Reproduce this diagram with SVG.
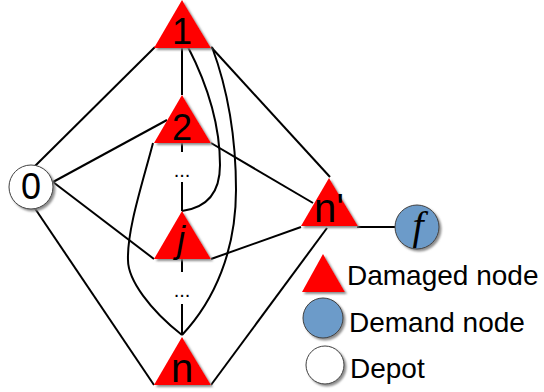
<svg xmlns="http://www.w3.org/2000/svg" width="544" height="392" viewBox="0 0 544 392">
  <defs>
    <filter id="shadow" x="-20%" y="-20%" width="140%" height="140%">
      <feDropShadow dx="2" dy="2" stdDeviation="0.8" flood-color="#808080" flood-opacity="0.9"/>
    </filter>
    <polygon id="tri" points="0,0 -28,48 29,48"/>
  </defs>
  <style>
    .edge { fill: none; stroke: #000; stroke-width: 2; }
    .damaged { fill: #ff0000; filter: url(#shadow); }
    .demand { fill: #6c9bc9; stroke: #404040; stroke-width: 1; filter: url(#shadow); }
    .depot { fill: #ffffff; stroke: #404040; stroke-width: 1; filter: url(#shadow); }
    .lbl { font-family: "Liberation Sans", Arial, sans-serif; font-size: 36px; fill: #000; text-anchor: middle; }
    .lbl-n { font-size: 40px; }
    .dots { font-family: "Liberation Sans", Arial, sans-serif; font-size: 20px; fill: #000; text-anchor: middle; }
    .legend { font-family: "Liberation Sans", Arial, sans-serif; font-size: 28px; fill: #000; }
  </style>

  <!-- connectors -->
  <g id="connectors">
    <!-- depot 0 -->
    <line class="edge" x1="35" y1="166" x2="155" y2="47"/>
    <line class="edge" x1="53" y1="182" x2="167" y2="120"/>
    <line class="edge" x1="53" y1="182" x2="154" y2="259"/>
    <line class="edge" x1="34" y1="207" x2="154" y2="385"/>
    <!-- vertical chain 1 - 2 - ... - j - ... - n -->
    <line class="edge" x1="182" y1="47" x2="182" y2="95"/>
    <line class="edge" x1="182" y1="143" x2="182" y2="152"/>
    <line class="edge" x1="182" y1="182" x2="182" y2="211"/>
    <line class="edge" x1="182" y1="259" x2="182" y2="272"/>
    <line class="edge" x1="182" y1="304" x2="182" y2="335"/>
    <!-- links into n' -->
    <line class="edge" x1="211" y1="47" x2="330" y2="177"/>
    <line class="edge" x1="211" y1="143" x2="313" y2="203"/>
    <line class="edge" x1="211" y1="259" x2="301" y2="227"/>
    <line class="edge" x1="211" y1="385" x2="327" y2="228"/>
    <line class="edge" x1="357" y1="227" x2="395" y2="227"/>
    <!-- curved links -->
    <path class="edge" d="M188,47 C205,80 220,120 220,165 C220,195 205,208 182,211"/>
    <path class="edge" d="M212,47 C228,90 236,140 236,190 C236,250 215,300 182,335"/>
    <path class="edge" d="M153,143 C142,185 127,230 128,260 C128,280 150,310 182,335"/>
  </g>

  <!-- nodes -->
  <g id="node-1">
    <use href="#tri" class="damaged" x="182" y="0"/>
    <text class="lbl" x="182" y="44">1</text>
  </g>
  <g id="node-2">
    <use href="#tri" class="damaged" x="182" y="95"/>
    <text class="lbl" x="182" y="140">2</text>
  </g>
  <g id="dots-upper">
    <text class="dots" x="182" y="177">...</text>
  </g>
  <g id="node-j">
    <use href="#tri" class="damaged" x="182" y="211"/>
    <text class="lbl" x="181" y="252" font-style="italic">j</text>
  </g>
  <g id="dots-lower">
    <text class="dots" x="182" y="297">...</text>
  </g>
  <g id="node-n">
    <use href="#tri" class="damaged" x="182" y="337"/>
    <text class="lbl lbl-n" x="182" y="382">n</text>
  </g>
  <g id="node-nprime">
    <use href="#tri" class="damaged" x="329" y="178"/>
    <text class="lbl lbl-n" x="329" y="222">n'</text>
  </g>
  <g id="node-0">
    <circle class="depot" cx="31" cy="187" r="22"/>
    <text class="lbl" x="31" y="199">0</text>
  </g>
  <g id="node-f">
    <circle class="demand" cx="417" cy="227" r="22"/>
    <text x="418" y="239" font-family="'Liberation Serif', 'Times New Roman', serif" font-style="italic" font-size="40" text-anchor="middle">f</text>
  </g>

  <!-- legend -->
  <g id="legend">
    <polygon class="damaged" points="323,254 302,292 345,292"/>
    <text class="legend" x="347" y="285">Damaged node</text>
    <circle class="demand" cx="323" cy="318" r="20"/>
    <text class="legend" x="349" y="332">Demand node</text>
    <circle class="depot" cx="325" cy="365" r="19"/>
    <text class="legend" x="350" y="378">Depot</text>
  </g>
</svg>
